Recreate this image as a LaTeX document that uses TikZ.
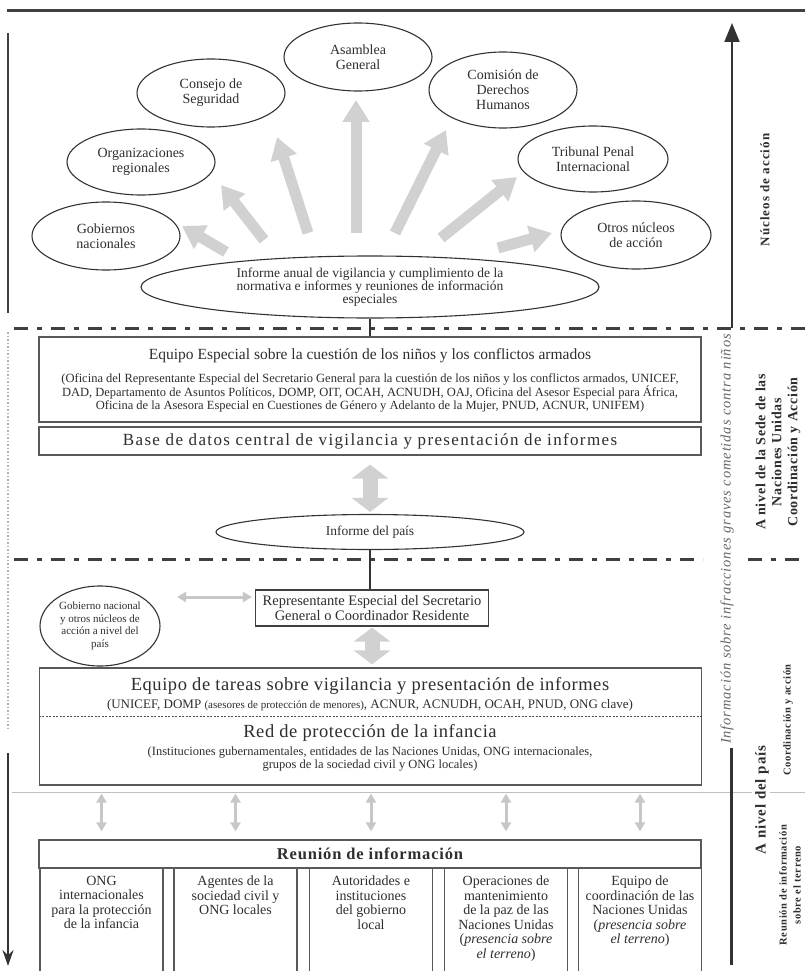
\documentclass[tikz,border=0pt]{standalone}
\usepackage{fontspec}
\setmainfont{Liberation Serif}
\usetikzlibrary{arrows.meta, positioning, calc, shapes.geometric}

\newcommand{\fsz}[2]{\fontsize{#1}{#2}\selectfont}

\begin{document}
\begin{tikzpicture}[
    x=1pt, y=-1pt,
    >=Stealth,
    every node/.style={text=black!82, inner sep=0pt, align=center},
    elli/.style={ellipse, draw=black!80, line width=1.1pt, fill=white, minimum width=148pt, minimum height=68pt, font=\fsz{14}{15}}, % 椭圆
    box/.style={draw=black!65, line width=1.2pt, fill=white, minimum width=662pt}, % 方框
    fat/.style={draw=black!18, line width=11pt, -{Triangle[width=26pt, length=22pt]}}, % 灰色粗箭头
    fatboth/.style={draw=black!18, line width=15pt, {Triangle[width=36pt, length=14pt]}-{Triangle[width=36pt, length=14pt]}},
    slim/.style={draw=black!22, line width=3pt, {Triangle[width=10pt, length=9pt]}-{Triangle[width=10pt, length=9pt]}},
    divline/.style={black!75, line width=3pt, dash pattern=on 14pt off 9pt on 5pt off 9pt}, % 点划分隔线
    stem/.style={black!80, line width=1.5pt},
    sidelbl/.style={rotate=90, font=\bfseries\fsz{13}{16}\addfontfeature{LetterSpace=8}}
]
    \clip (0,0) rectangle (805,971);

    % 1. 顶部横线与左侧竖线
    \draw[black!75, line width=3pt] (7,11) -- (805,11);
    \coordinate (lt) at (8,33);
    \coordinate (lb) at (8,313);
    \draw[black!75, line width=2pt] (lt) -- (lb);
    \draw[black!30, line width=1.5pt, dotted] (8,332) -- (8,728);
    \coordinate (la) at (8,753);
    \coordinate (lz) at (8,966);
    \draw[black!80, line width=2.5pt, -{Stealth[length=16pt, width=11pt]}] (la) -- (lz);

    % 2. 分隔线
    \draw[divline] (14,328) -- (805,328);
    \draw[divline] (14,559) -- (703,559);
    \draw[divline] (748,559) -- (805,559);
    \draw[black!25, line width=1pt] (12,792) -- (752,792) (770,792) -- (805,792);

    % 3. 右侧箭头与标注
    \coordinate (nb) at (732,328);
    \coordinate (nt) at (732,23);
    \draw[black!80, line width=2pt, -{Triangle[width=15pt, length=19pt]}] (nb) -- (nt);
    \coordinate (pb) at (731,748);
    \coordinate (pz) at (731,965);
    \draw[black!80, line width=3pt] (pb) -- (pz);
    \node[sidelbl] (nuc) at (765,190) {Núcleos de acción};
    \node[sidelbl, font=\bfseries\fsz{14}{16}\addfontfeature{LetterSpace=5}] (sede) at (778,452)
        {A nivel de la Sede de las\\Naciones Unidas\\Coordinación y Acción};
    \node[rotate=90, text=black!60, font=\itshape\fsz{14.5}{16}\addfontfeature{LetterSpace=6}] (infr) at (727,539)
        {Información sobre infracciones graves cometidas contra niños};
    \node[sidelbl, font=\bfseries\fsz{15}{16}\addfontfeature{LetterSpace=6}] (pais2) at (762,800) {A nivel del país};
    \node[sidelbl, font=\bfseries\fsz{10.5}{12}\addfontfeature{LetterSpace=6}] (coac) at (788,720) {Coordinación y acción};
    \node[sidelbl, font=\bfseries\fsz{10.5}{14}\addfontfeature{LetterSpace=6}] (rite) at (790,885)
        {Reunión de información\\sobre el terreno};

    % 4. 灰色粗箭头(由报告指向各核心)
    \foreach \i/\ax/\ay/\bx/\by in {1/226/252/182/226, 2/264/240/221/185, 3/308/233/277/137,
        4/356/233/356/100, 5/395/233/446/130, 6/441/238/517/177, 7/498/248/552/233} {
        \coordinate (f\i) at (\ax,\ay);
        \coordinate (g\i) at (\bx,\by);
        \draw[fat] (f\i) -- (g\i);
    }

    % 5. 上部椭圆
    \node[elli] (asm) at (358,57) {Asamblea\\General};
    \node[elli] (cons) at (211,93) {Consejo de\\Seguridad};
    \node[elli, minimum height=76pt] (cdh) at (503,90) {Comisión de\\Derechos\\Humanos};
    \node[elli, minimum height=66pt] (org) at (141,162) {Organizaciones\\regionales};
    \node[elli, minimum width=150pt, minimum height=66pt] (tpi) at (593,159) {Tribunal Penal\\Internacional};
    \node[elli] (gob) at (106,236) {Gobiernos\\nacionales};
    \node[elli, minimum width=150pt] (otr) at (636,235) {Otros núcleos\\de acción};
    \node[elli, minimum width=458pt, minimum height=62pt, font=\fsz{13.5}{13}] (inf) at (370,287)
        {Informe anual de vigilancia y cumplimiento de la\\normativa e informes y reuniones de información\\especiales};

    % 6. 总部层面
    \node[box, minimum height=85pt] (ee) at (370,379.5) {};
    \node[font=\fsz{15.5}{17}] (eet) at (370,356)
        {Equipo Especial sobre la cuestión de los niños y los conflictos armados};
    \node[font=\fsz{12.5}{13.5}] (eep) at (370,393)
        {(Oficina del Representante Especial del Secretario General para la cuestión de los niños y los conflictos armados, UNICEF,\\
         DAD, Departamento de Asuntos Políticos, DOMP, OIT, OCAH, ACNUDH, OAJ, Oficina del Asesor Especial para África,\\
         Oficina de la Asesora Especial en Cuestiones de Género y Adelanto de la Mujer, PNUD, ACNUR, UNIFEM)};
    \node[box, minimum height=28pt, font=\fsz{17}{18}\addfontfeature{LetterSpace=8}] (bd) at (370,441)
        {Base de datos central de vigilancia y presentación de informes};
    \draw[stem] (inf.south) -- (ee.north);
    \node[elli, minimum width=308pt, minimum height=35pt, font=\fsz{13.5}{15}] (pais) at (370,532) {Informe del país};
    \draw[fatboth, shorten <=9pt, shorten >=2pt] (bd.south) -- (pais.north);

    % 7. 国家层面
    \node[draw=black!75, line width=1.2pt, fill=white, minimum width=233pt, minimum height=36pt,
        font=\fsz{14.5}{15.5}] (rep) at (372,608) {Representante Especial del Secretario\\General o Coordinador Residente};
    \draw[stem] (pais.south) -- (pais.south |- rep.north);
    \node[ellipse, draw=black!80, line width=1.1pt, fill=white, minimum width=120pt, minimum height=80pt,
        inner xsep=-6pt, font=\fsz{11}{12.5}] (gobp) at (100,626)
        {Gobierno nacional\\y otros núcleos de\\acción a nivel del\\país};
    \coordinate (h1) at (177,597);
    \draw[slim, shorten >=3pt] (h1) -- (rep.west |- h1);

    \node[box, minimum height=117pt] (ta) at (370.5,726.5) {};
    \draw[fatboth, shorten <=1pt, shorten >=3pt] (rep.south) -- (rep.south |- ta.north);
    \coordinate (dl) at (0,716);
    \draw[black!70, line width=0.8pt, dash pattern=on 2pt off 1.5pt] (ta.west |- dl) -- (ta.east |- dl);
    \node[font=\fsz{18.5}{19}\addfontfeature{LetterSpace=3}] (tat) at (370,686)
        {Equipo de tareas sobre vigilancia y presentación de informes};
    \node[font=\fsz{13}{13}] (tap) at (370,705)
        {(UNICEF, DOMP {\fsz{11}{12}(asesores de protección de menores)}, ACNUR, ACNUDH, OCAH, PNUD, ONG clave)};
    \node[font=\fsz{18.5}{19}\addfontfeature{LetterSpace=3}] (redt) at (370,733) {Red de protección de la infancia};
    \node[font=\fsz{12.5}{13}] (redp) at (370,759)
        {(Instituciones gubernamentales, entidades de las Naciones Unidas, ONG internacionales,\\grupos de la sociedad civil y ONG locales)};

    % 8. 实地信息会议
    \node[box, minimum height=28pt, font=\bfseries\fsz{16.5}{18}\addfontfeature{LetterSpace=5}] (reu) at (370,854)
        {Reunión de información};
    \foreach \i/\cx/\txt in {
        1/101.5/{ONG\\internacionales\\para la protección\\de la infancia},
        2/235.5/{Agentes de la\\sociedad civil y\\ONG locales},
        3/371/{Autoridades e\\instituciones\\del gobierno\\local},
        4/506/{Operaciones de\\mantenimiento\\de la paz de las\\Naciones Unidas\\(\textit{presencia sobre}\\\textit{el terreno})},
        5/640/{Equipo de\\coordinación de las\\Naciones Unidas\\(\textit{presencia sobre}\\\textit{el terreno})}} {
        \node[draw=black!65, line width=1.2pt, fill=white, minimum width=123pt, minimum height=130pt, anchor=north]
            (col\i) at (\cx,868) {};
        \node[anchor=north, font=\fsz{14}{14.5}] (colt\i) at (\cx,876) {\txt};
        \draw[slim, shorten <=8pt, shorten >=8pt] (col\i.north |- ta.south) -- (col\i.north |- reu.north);
    }
\end{tikzpicture}
\end{document}
